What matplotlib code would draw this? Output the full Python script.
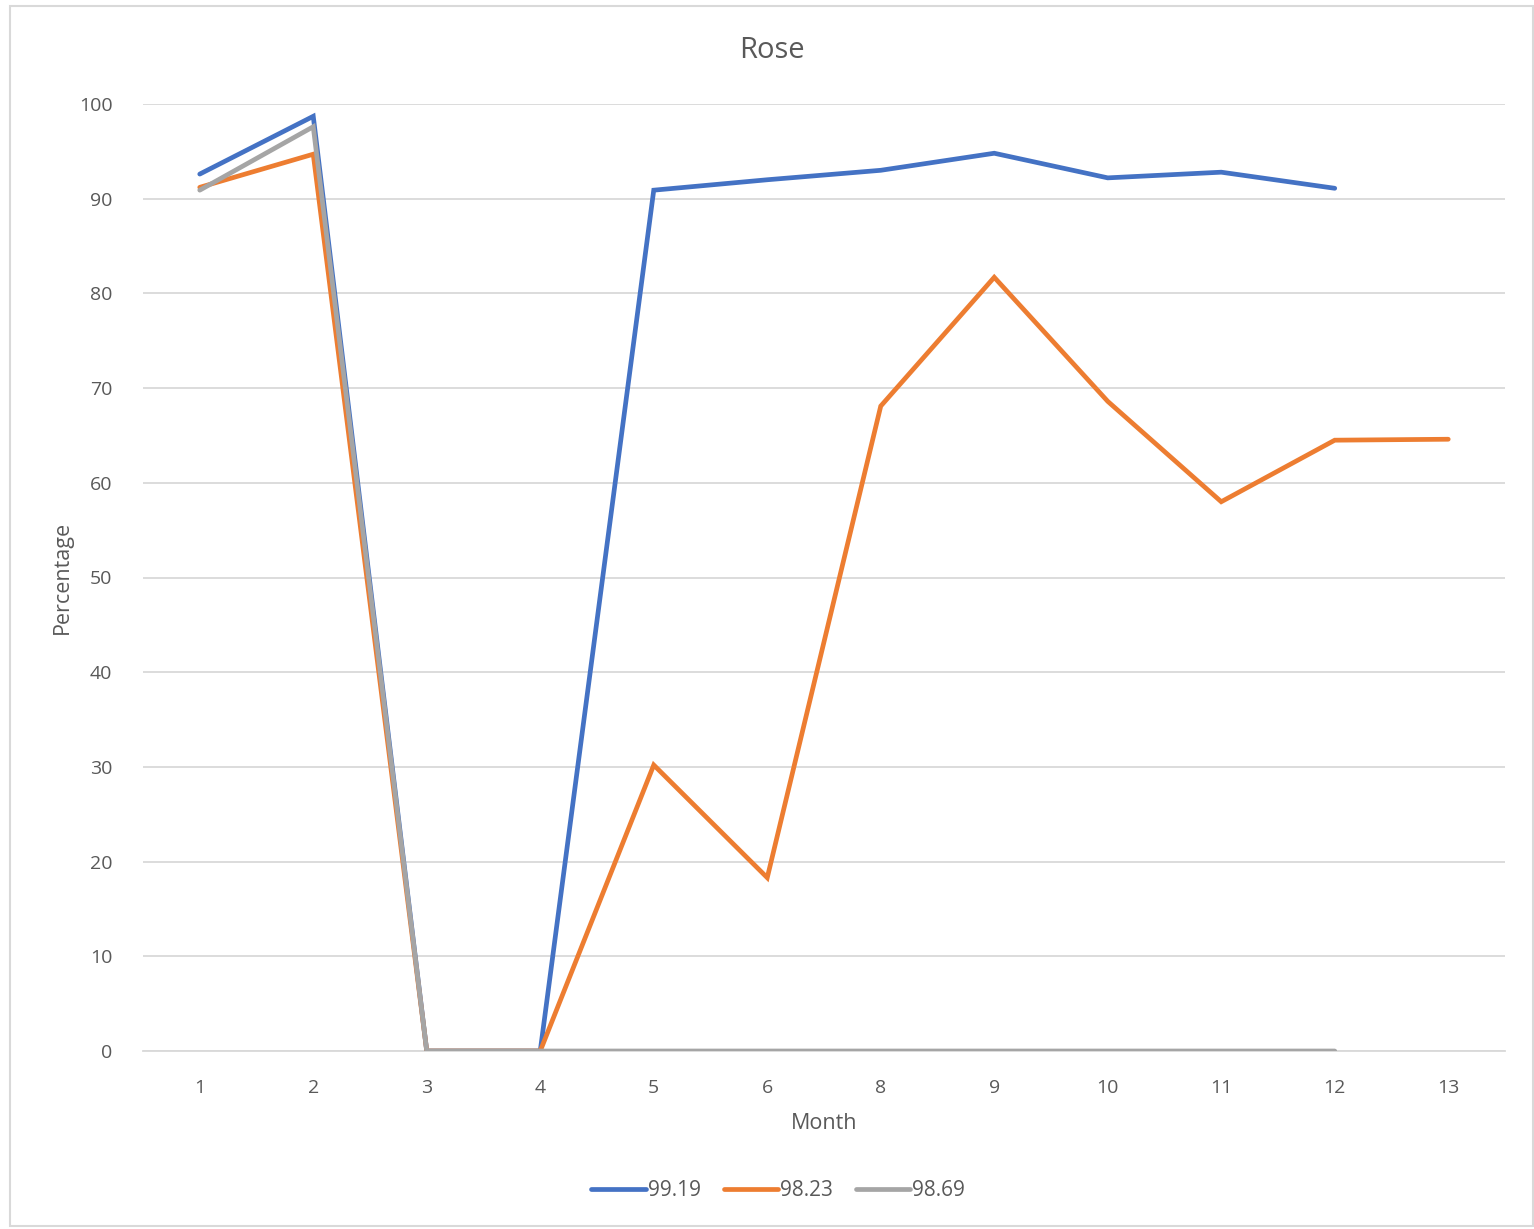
import matplotlib
matplotlib.use("Agg")
import matplotlib.pyplot as plt
from matplotlib.patches import Rectangle

months = ["1", "2", "3", "4", "5", "6", "8", "9", "10", "11", "12", "13"]
series_names = ["99.19", "98.23", "98.69"]
blue_vals = [92.6, 98.7, 0, 0, 90.9, 92.0, 93.0, 94.8, 92.2, 92.8, 91.1]
orange_vals = [91.2, 94.7, 0, 0, 30.2, 18.3, 68.1, 81.7, 68.6, 58.0, 64.5, 64.6]
gray_vals = [90.9, 97.6, 0, 0, 0, 0, 0, 0, 0, 0, 0]
yticks = [0, 10, 20, 30, 40, 50, 60, 70, 80, 90, 100]

colors = ["#4472C4", "#ED7D31", "#A5A5A5"]
text_color = "#595959"
grid_color = "#D9D9D9"

plt.rcParams['font.family'] = ['Open Sans', 'DejaVu Sans']

W, H = 1534, 1229
fig = plt.figure(figsize=(W / 100, H / 100), dpi=100)
fig.patches.append(Rectangle((10 / W, 1 - 1226 / H), 1523 / W, 1220 / H,
                             transform=fig.transFigure, fill=False,
                             edgecolor=grid_color, linewidth=1.5))

ax = fig.add_axes([143 / W, 1 - 1051 / H, (1505 - 143) / W, (1051 - 104) / H])
x = list(range(len(months)))
for vals, name, c in zip([blue_vals, orange_vals, gray_vals], series_names, colors):
    ax.plot(x[:len(vals)], vals, color=c, linewidth=3.4, label=name,
            solid_capstyle='round', solid_joinstyle='miter', zorder=3)

ax.set_xlim(-0.5, len(months) - 0.5)
ax.set_ylim(0, 100)
ax.set_xticks(x)
ax.set_xticklabels(months)
ax.set_yticks(yticks)
ax.tick_params(axis='both', length=0, labelsize=14, colors=text_color)
ax.tick_params(axis='x', pad=20)
ax.tick_params(axis='y', pad=22)
ax.grid(axis='y', color=grid_color, linewidth=1.3, zorder=0)
for s in ['left', 'right', 'top']:
    ax.spines[s].set_visible(False)
ax.spines['bottom'].set_color(grid_color)
ax.spines['bottom'].set_linewidth(1.3)

ax.set_xlabel("Month", fontsize=15.5, color=text_color, labelpad=12)
ax.set_ylabel("Percentage", fontsize=15.5, color=text_color, labelpad=4)
fig.text(772 / W, 1 - 51 / H, "Rose", fontsize=21, color=text_color,
         ha='center', va='center')

leg = fig.legend(loc='center', bbox_to_anchor=(778 / W, 1 - 1191 / H), ncol=3,
                 frameon=False, fontsize=15, handlelength=2.6, handletextpad=0.1,
                 columnspacing=1.1)
for t in leg.get_texts():
    t.set_color(text_color)

fig.savefig("out.png", dpi=100)
